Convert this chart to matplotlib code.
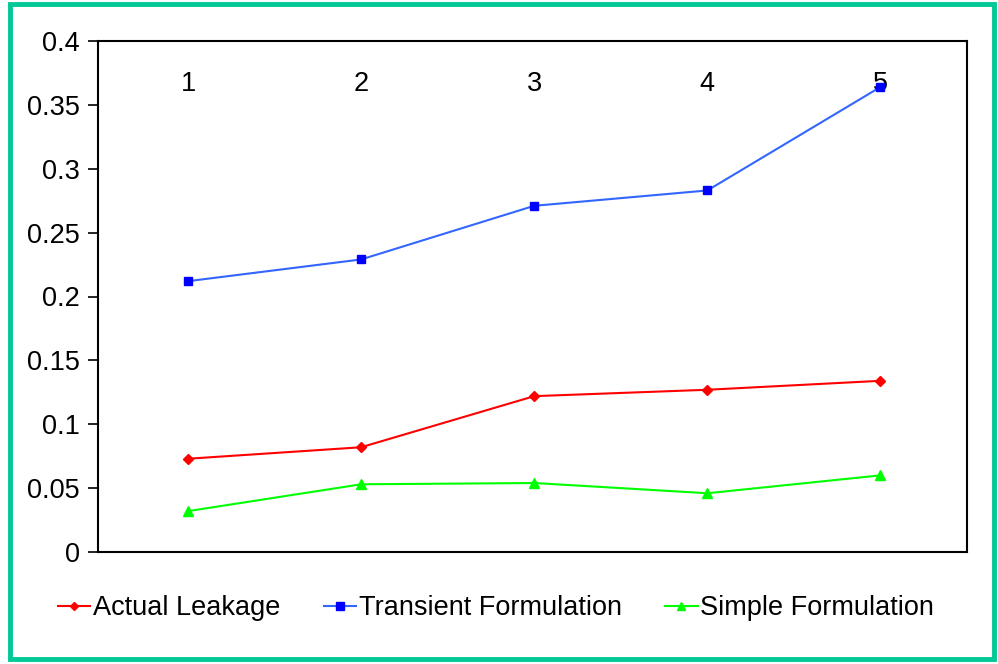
import matplotlib
matplotlib.use("Agg")
import matplotlib.pyplot as plt
from matplotlib.patches import Rectangle

plt.rcParams['font.family'] = ['Liberation Sans', 'DejaVu Sans']

categories = ["1", "2", "3", "4", "5"]
actual_leakage = [0.073, 0.082, 0.122, 0.127, 0.134]
transient_formulation = [0.212, 0.229, 0.271, 0.283, 0.364]
simple_formulation = [0.032, 0.053, 0.054, 0.046, 0.060]
y_ticks = [0, 0.05, 0.1, 0.15, 0.2, 0.25, 0.3, 0.35, 0.4]
y_tick_labels = ["0", "0.05", "0.1", "0.15", "0.2", "0.25", "0.3", "0.35", "0.4"]

fig = plt.figure(figsize=(9.98, 6.64), dpi=100)
fig.patches.append(Rectangle((10/998, 5/664), 984/998, 655/664, transform=fig.transFigure,
                             fill=False, edgecolor='#00C896', linewidth=3.5, zorder=0))
ax = fig.add_axes([98/998, 1-552/664, 869/998, 511/664])

x = list(range(1, len(categories) + 1))
ax.plot(x, actual_leakage, color='#FF0000', lw=1.5, marker='D', ms=5,
        mfc='#FF0000', mec='#FF0000', label='Actual Leakage')
ax.plot(x, transient_formulation, color='#3366FF', lw=1.5, marker='s', ms=6,
        mfc='#0000FF', mec='#0000FF', label='Transient Formulation')
ax.plot(x, simple_formulation, color='#00FF00', lw=1.5, marker='^', ms=7,
        mfc='#00FF00', mec='#00FF00', label='Simple Formulation')

ax.set_xlim(0.48, 5.5)
ax.set_ylim(0, 0.4)
ax.set_yticks(y_ticks)
ax.set_yticklabels(y_tick_labels)
ax.set_xticks(x)
ax.set_xticklabels(categories)
ax.xaxis.set_ticks_position('top')
ax.tick_params(axis='x', length=0, pad=-40, labelsize=19.5)
ax.tick_params(axis='y', direction='out', length=7, width=1.2, labelsize=19.5, pad=6)
for s in ax.spines.values():
    s.set_color('black')
    s.set_linewidth(1.5)

fig.legend(loc='center', bbox_to_anchor=(0.497, 1-608/664), ncol=3, frameon=False,
           fontsize=19.5, handlelength=1.2, handletextpad=0.1, columnspacing=1.6,
           markerscale=0.9)

fig.savefig('out.png', dpi=100)
